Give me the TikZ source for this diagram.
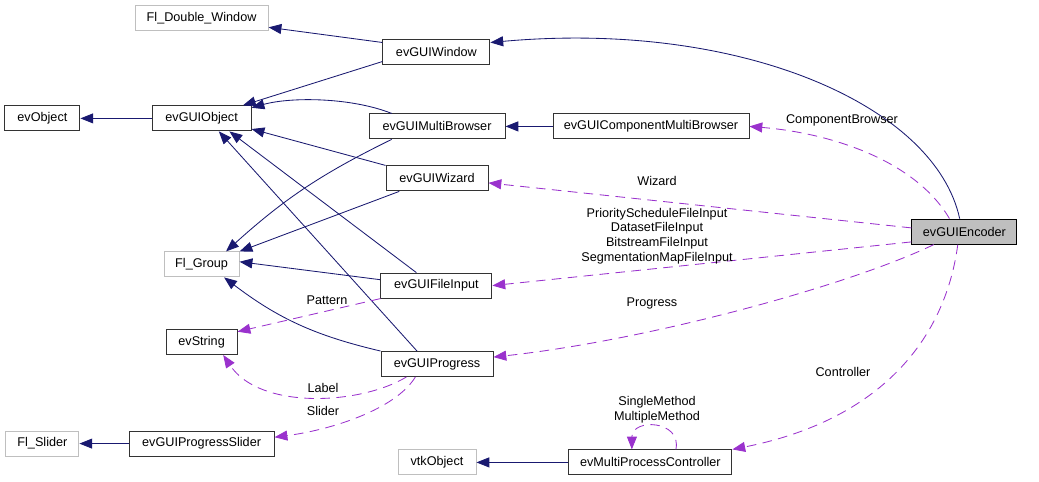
\documentclass[tikz,border=0pt]{standalone}
\usepackage{fontspec}
\setmainfont{Liberation Sans}
\usetikzlibrary{arrows.meta}
\definecolor{edgeblue}{HTML}{191970}
\definecolor{edgepurple}{HTML}{9A32CD}
\definecolor{boxgray}{HTML}{BFBFBF}

\begin{document}
\begin{tikzpicture}[
  font=\fontsize{9}{10.4}\selectfont,
  cls/.style={draw=black!80, line width=0.7pt, minimum height=6.25mm, inner sep=0pt},
  ext/.style={cls, draw=boxgray},
  inh/.style={edgeblue, line width=0.6pt, -{Triangle[length=3.2mm,width=2.5mm]}},
  use/.style={edgepurple, line width=0.6pt, dash pattern=on 2.4mm off 1.6mm,
    -{Triangle[length=3.2mm,width=2.5mm]}},
  lbl/.style={inner sep=0pt, align=center}
]
\useasboundingbox (0mm,0mm) rectangle (259.75mm,-120.25mm);

\node[ext, minimum width=33.25mm] (dblwin) at (50.4mm,-4.6mm) {Fl\_Double\_Window};
\node[cls, minimum width=26.75mm] (win) at (109.1mm,-13mm) {evGUIWindow};
\node[cls, minimum width=18.75mm] (obj) at (10.6mm,-29.6mm) {evObject};
\node[cls, minimum width=24.75mm] (guiobj) at (50.4mm,-29.6mm) {evGUIObject};
\node[cls, minimum width=34mm] (mbrowse) at (109.25mm,-31.6mm) {evGUIMultiBrowser};
\node[cls, minimum width=49mm] (cmbrowse) at (162.75mm,-31.6mm) {evGUIComponentMultiBrowser};
\node[cls, minimum width=25.5mm] (wiz) at (109.25mm,-44.6mm) {evGUIWizard};
\node[cls, minimum width=26.25mm, fill=boxgray, draw=black] (enc) at (241.1mm,-57.9mm) {evGUIEncoder};
\node[ext, minimum width=18.75mm] (grp) at (50.4mm,-66.1mm) {Fl\_Group};
\node[cls, minimum width=27.75mm] (finput) at (109.1mm,-71.4mm) {evGUIFileInput};
\node[cls, minimum width=17.75mm] (str) at (50.4mm,-85.5mm) {evString};
\node[cls, minimum width=28mm] (prog) at (109.25mm,-91mm) {evGUIProgress};
\node[ext, minimum width=18.25mm] (fslider) at (10.6mm,-110.9mm) {Fl\_Slider};
\node[cls, minimum width=36.25mm] (pslider) at (50.4mm,-110.9mm) {evGUIProgressSlider};
\node[ext, minimum width=19.5mm] (vtk) at (109.25mm,-115.6mm) {vtkObject};
\node[cls, minimum width=40.75mm] (mpc) at (162.6mm,-115.6mm) {evMultiProcessController};

\draw[inh] (win.170) -- (dblwin);
\draw[inh] (enc.110) .. controls (233.75mm,-26.25mm) and (185mm,-5mm) .. (win.10);
\draw[inh] (win.190) -- (guiobj);
\draw[inh] (guiobj) -- (obj);
\draw[inh] (mbrowse.164) .. controls (87.5mm,-24.25mm) and (72.5mm,-24.25mm) .. (guiobj.12);
\draw[inh] (cmbrowse) -- (mbrowse);
\draw[inh] (wiz.north west) -- (guiobj.-12);
\draw[inh] (mbrowse.196) to[bend right=8] (grp.28);
\draw[inh] (wiz.199) -- (grp.north east);
\draw[inh] (finput.174) -- (grp.4);
\draw[inh] (finput.147) -- (guiobj.-25);
\draw[inh] (prog.147) -- (guiobj.-37);
\draw[inh] (prog.north west) to[bend left=12] (grp.-30);
\draw[inh] (pslider) -- (fslider);
\draw[inh] (mpc) -- (vtk);

\draw[use] (enc.139) .. controls (228.75mm,-40mm) and (207.5mm,-33.25mm) .. (cmbrowse.east);
\draw[use] (enc.176) -- (wiz.-5);
\draw[use] (enc.191) -- (finput.east);
\draw[use] (enc.203) .. controls (212.5mm,-71.25mm) and (162.5mm,-85mm) .. (prog.7);
\draw[use] (enc.243) .. controls (236.25mm,-85mm) and (220mm,-105mm) .. (mpc.north east);
\draw[use] (mpc.27) .. controls (170.5mm,-105mm) and (158mm,-104.5mm) .. (mpc.145);
\draw[use] (finput.south west) -- (str.16);
\draw[use] (prog.203) .. controls (90mm,-101.25mm) and (65mm,-102.5mm) .. (str.-31);
\draw[use] (prog.211) .. controls (98.75mm,-102.5mm) and (82.5mm,-107.5mm) .. (pslider.5);

\node[lbl] (lcomp) at (210.5mm,-30mm) {ComponentBrowser};
\node[lbl] (lwiz) at (164.25mm,-45.25mm) {Wizard};
\node[lbl] (lfile) at (164.25mm,-59mm) {PriorityScheduleFileInput\\ DatasetFileInput\\
  BitstreamFileInput\\ SegmentationMapFileInput};
\node[lbl] (lprog) at (163mm,-75.75mm) {Progress};
\node[lbl] (lctrl) at (210.75mm,-93mm) {Controller};
\node[lbl] (lmeth) at (164.25mm,-102.4mm) {SingleMethod\\ MultipleMethod};
\node[lbl] (lpat) at (81.75mm,-75mm) {Pattern};
\node[lbl] (llab) at (80.75mm,-97mm) {Label};
\node[lbl] (lsli) at (80.75mm,-102.75mm) {Slider};
\end{tikzpicture}
\end{document}
